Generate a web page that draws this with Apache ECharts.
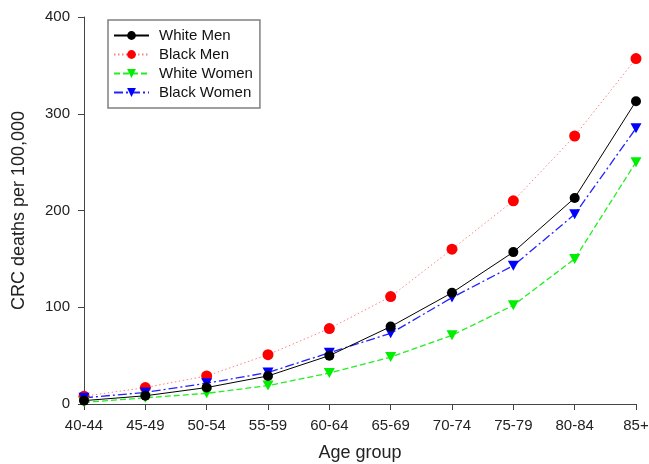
<!DOCTYPE html>
<html><head><meta charset="utf-8">
<script src="https://cdn.jsdelivr.net/npm/echarts@6/dist/echarts.min.js"></script>
<style>html,body{margin:0;padding:0;background:#fff}#c{width:649px;height:464px}</style>
</head><body><div id="c"></div>
<script>
const categories = ['40-44','45-49','50-54','55-59','60-64','65-69','70-74','75-79','80-84','85+'];
const whiteMen   = [3.5, 8.5, 17, 29, 50, 80, 115, 157, 213, 313];
const blackMen   = [8, 17, 29, 51, 78, 111, 160, 210, 277, 357];
const whiteWomen = [1.7, 6.4, 11, 19, 32, 48.5, 71, 102, 150, 250];
const blackWomen = [6.4, 12, 21.5, 32.5, 53, 73, 110, 143, 196, 285];
const yTicks = [0, 100, 200, 300, 400];

const font = 'Liberation Sans, Arial, sans-serif';
const chart = echarts.init(document.getElementById('c'));
chart.setOption({
  animation: false,
  grid: {left: 84, right: 13, top: 17, bottom: 60, outerBoundsMode: 'none', containLabel: false},
  legend: {
    orient: 'vertical', left: 108, top: 20,
    borderColor: '#808080', borderWidth: 1.5, padding: [8, 7, 8, 5],
    itemWidth: 35, itemHeight: 11, itemGap: 4,
    textStyle: {fontFamily: font, fontSize: 15, color: '#111', padding: [0, 0, 0, 5]},
    data: ['White Men', 'Black Men', 'White Women', 'Black Women']
  },
  xAxis: {
    type: 'category', data: categories, boundaryGap: false,
    name: 'Age group', nameLocation: 'middle', nameGap: 40,
    nameTextStyle: {fontFamily: font, fontSize: 18, color: '#222'},
    axisLine: {lineStyle: {color: '#444', width: 1}},
    axisTick: {length: 6, alignWithLabel: true, lineStyle: {color: '#444'}},
    axisLabel: {fontFamily: font, fontSize: 15, color: '#222', margin: 14, interval: 0},
    splitLine: {show: false}
  },
  yAxis: {
    type: 'value', min: yTicks[0], max: yTicks[yTicks.length-1], interval: 100,
    name: 'CRC deaths per 100,000', nameLocation: 'middle', nameGap: 56, nameRotate: 90,
    nameTextStyle: {fontFamily: font, fontSize: 18, color: '#222'},
    axisLine: {show: true, lineStyle: {color: '#444', width: 1}},
    axisTick: {show: true, length: 6, lineStyle: {color: '#444'}},
    axisLabel: {fontFamily: font, fontSize: 15, color: '#222', margin: 14},
    splitLine: {show: false}
  },
  series: [
    {name: 'White Men', type: 'line', data: whiteMen, symbol: 'circle', symbolSize: 10,
     itemStyle: {color: '#000'}, lineStyle: {color: '#000', width: 1, type: 'solid'}, z: 4},
    {name: 'Black Men', type: 'line', data: blackMen, symbol: 'circle', symbolSize: 11,
     itemStyle: {color: '#ff0000'}, lineStyle: {color: '#ff8080', width: 1, type: [1.5, 2.5]}, z: 2},
    {name: 'White Women', type: 'line', data: whiteWomen, symbol: 'triangle', symbolRotate: 180, symbolSize: [11, 10],
     itemStyle: {color: '#00ee00'}, lineStyle: {color: '#22ee22', width: 1.3, type: [6, 3]}, z: 3},
    {name: 'Black Women', type: 'line', data: blackWomen, symbol: 'triangle', symbolRotate: 180, symbolSize: [11, 10],
     itemStyle: {color: '#0000ff'}, lineStyle: {color: '#2222ff', width: 1.3, type: [9, 3, 2, 3]}, z: 3}
  ]
});
</script></body></html>
